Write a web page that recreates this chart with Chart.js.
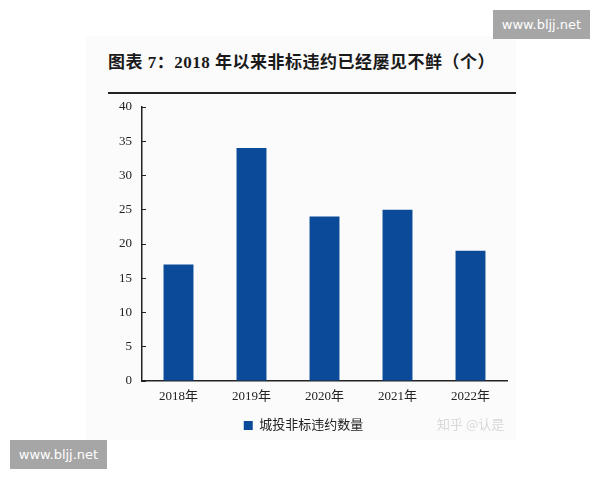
<!DOCTYPE html>
<html>
<head>
<meta charset="utf-8">
<script src="https://cdn.jsdelivr.net/npm/chart.js@4.4.0/dist/chart.umd.min.js"></script>
<style>
    html, body { margin: 0; padding: 0; background: #fff; }
    #wrap { position: relative; width: 600px; height: 480px; overflow: hidden; }
    .panel { position: absolute; left: 86px; top: 36px; width: 430px; height: 404px; background: #fbfbfc; }
    .title { position: absolute; left: 108px; top: 48px; font: bold 17px "Liberation Serif", "Noto Sans CJK SC", serif; color: #1a1a1a; letter-spacing: 0.5px; }
    .rule { position: absolute; left: 108px; top: 92px; width: 408px; height: 2px; background: #222; }
    .mark { position: absolute; background: #a6a6a6; color: #fff; font: 13px "DejaVu Sans", sans-serif; text-align: center; line-height: 29px; width: 97px; height: 29px; }
    .zhihu { position: absolute; left: 437px; top: 414px; font: 13px "Noto Sans CJK SC", sans-serif; color: #d8d8d8; }
    canvas { position: absolute; left: 0; top: 0; }
</style>
</head>
<body>
<div id="wrap">
    <div class="panel"></div>
    <div class="title">图表 7：2018 年以来非标违约已经屡见不鲜（个）</div>
    <div class="rule"></div>
    <canvas id="chart" width="600" height="480"></canvas>
    <div class="zhihu">知乎 @认是</div>
    <div class="mark" style="left:493px; top:10px;">www.bljj.net</div>
    <div class="mark" style="left:10px; top:440px;">www.bljj.net</div>
</div>
<script>
const years = ['2018年', '2019年', '2020年', '2021年', '2022年'];
const defaults = [17, 34, 24, 25, 19];
const seriesName = '城投非标违约数量';
const yTicks = [0, 5, 10, 15, 20, 25, 30, 35, 40];

const fontFamily = '"Liberation Serif", "Noto Sans CJK SC", serif';

new Chart(document.getElementById('chart'), {
    type: 'bar',
    data: {
        labels: years,
        datasets: [{
            label: seriesName,
            data: defaults,
            backgroundColor: '#0b4a98',
            categoryPercentage: 1,
            barPercentage: 0.41
        }]
    },
    options: {
        responsive: false,
        animation: false,
        layout: { padding: { left: 100, right: 93, top: 107, bottom: 38 } },
        plugins: {
            legend: {
                position: 'bottom',
                labels: {
                    boxWidth: 9,
                    boxHeight: 9,
                    padding: 12,
                    color: '#222',
                    font: { family: fontFamily, size: 13 }
                }
            },
            tooltip: { enabled: false }
        },
        scales: {
            x: {
                grid: { display: false, drawTicks: false },
                border: { color: '#222', width: 1.5 },
                ticks: { color: '#222', padding: 8, font: { family: fontFamily, size: 13 } },
                afterFit: function (scale) { scale.height = 26; }
            },
            y: {
                min: 0,
                max: 40,
                afterBuildTicks: function (scale) { scale.ticks = yTicks.map(v => ({ value: v })); },
                grid: { display: true, drawOnChartArea: false, tickLength: -4, color: '#222' },
                border: { color: '#222', width: 1.5 },
                ticks: { color: '#222', padding: 14, font: { family: fontFamily, size: 13 } },
                afterFit: function (scale) { scale.width = 42; }
            }
        }
    }
});
</script>
</body>
</html>
